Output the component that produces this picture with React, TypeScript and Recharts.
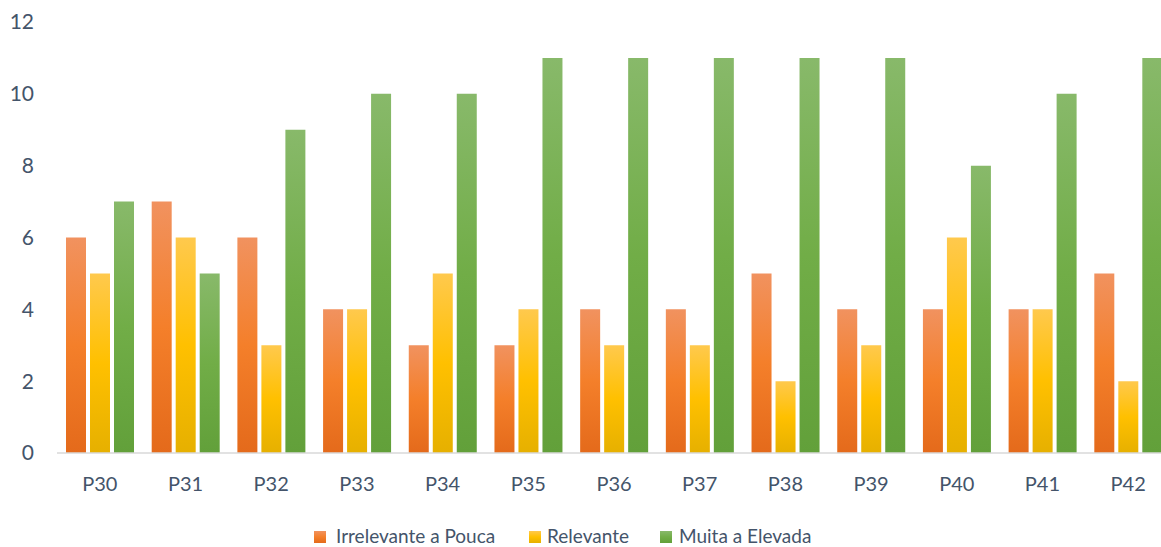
import React from 'react';
import { BarChart, Bar, XAxis, YAxis, Legend } from 'recharts';

const categories = ['P30', 'P31', 'P32', 'P33', 'P34', 'P35', 'P36', 'P37', 'P38', 'P39', 'P40', 'P41', 'P42'];
const irrelevante = [6, 7, 6, 4, 3, 3, 4, 4, 5, 4, 4, 4, 5];
const relevante = [5, 6, 3, 4, 5, 4, 3, 3, 2, 3, 6, 4, 2];
const muita = [7, 5, 9, 10, 10, 11, 11, 11, 11, 11, 8, 10, 11];
const yTicks = [0, 2, 4, 6, 8, 10, 12];

const seriesNames = ['Irrelevante a Pouca', 'Relevante', 'Muita a Elevada'];

const data = categories.map((c, i) => ({
  name: c,
  irrelevante: irrelevante[i],
  relevante: relevante[i],
  muita: muita[i],
}));

const textColor = '#44546A';
const font = 'Lato, sans-serif';

const gradients = [
  { id: 'gOrange', top: '#F1925F', mid: '#F47F2A', bottom: '#E46A1B' },
  { id: 'gYellow', top: '#FFC94D', mid: '#FFC000', bottom: '#E6B000' },
  { id: 'gGreen', top: '#88B96A', mid: '#71AD47', bottom: '#62A03A' },
];

const legendCss = [
  'linear-gradient(#F1925F, #F47F2A, #E46A1B)',
  'linear-gradient(#FFC94D, #FFC000, #E6B000)',
  'linear-gradient(#88B96A, #71AD47, #62A03A)',
];

// legend item placement (square x, text x)
const legendPos = [
  [314, 336],
  [529, 547],
  [660, 679],
];

function LegendContent() {
  return (
    <div style={{ position: 'relative', height: 22, fontFamily: font, fontSize: 19, color: textColor }}>
      {seriesNames.map((n, i) => (
        <React.Fragment key={n}>
          <span style={{ position: 'absolute', left: legendPos[i][0], top: 6, width: 12, height: 12, background: legendCss[i] }} />
          <span style={{ position: 'absolute', left: legendPos[i][1], top: 0, height: 21, lineHeight: '21px', whiteSpace: 'nowrap' }}>{n}</span>
        </React.Fragment>
      ))}
    </div>
  );
}

export default function App() {
  return (
    <div style={{ position: 'absolute', left: 0, top: 0, width: 1161, height: 547, overflow: 'hidden', background: '#fff' }}>
      <BarChart
        width={1172}
        height={547}
        data={data}
        margin={{ top: 22, right: 1, left: 0, bottom: 0 }}
        barCategoryGap={9}
        barGap={4}
      >
        <defs>
          {gradients.map(g => (
            <linearGradient key={g.id} id={g.id} x1="0" y1="0" x2="0" y2="1">
              <stop offset="0%" stopColor={g.top} />
              <stop offset="50%" stopColor={g.mid} />
              <stop offset="100%" stopColor={g.bottom} />
            </linearGradient>
          ))}
        </defs>
        <XAxis
          dataKey="name"
          height={72}
          tickLine={false}
          tickSize={0}
          tickMargin={24}
          axisLine={{ stroke: '#D9D9D9', strokeWidth: 1.5 }}
          tick={{ fill: textColor, fontSize: 20, fontFamily: font }}
        />
        <YAxis
          width={57}
          domain={[0, 12]}
          ticks={yTicks}
          axisLine={false}
          tickLine={false}
          tickSize={0}
          tickMargin={23}
          tick={{ fill: textColor, fontSize: 21, fontFamily: font }}
        />
        <Legend verticalAlign="bottom" content={<LegendContent />} wrapperStyle={{ left: 0, width: 1161 }} />
        <Bar dataKey="irrelevante" name={seriesNames[0]} fill="url(#gOrange)" isAnimationActive={false} />
        <Bar dataKey="relevante" name={seriesNames[1]} fill="url(#gYellow)" isAnimationActive={false} />
        <Bar dataKey="muita" name={seriesNames[2]} fill="url(#gGreen)" isAnimationActive={false} />
      </BarChart>
    </div>
  );
}
